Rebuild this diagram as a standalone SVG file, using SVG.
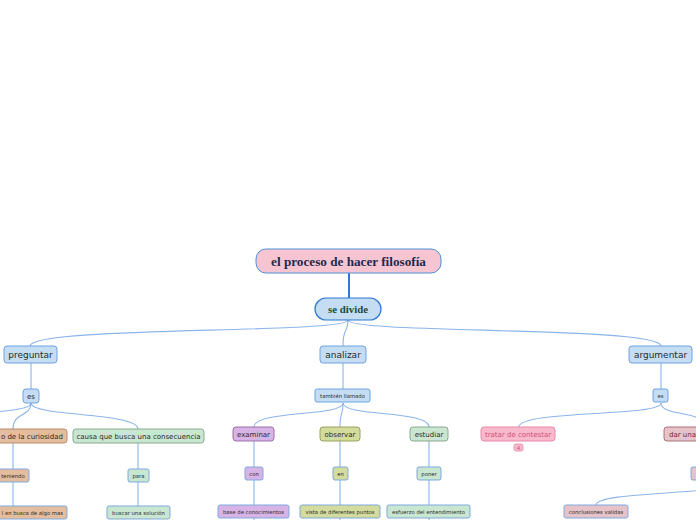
<svg xmlns="http://www.w3.org/2000/svg" width="696" height="520" viewBox="0 0 696 520">
<style>
.c{fill:none;stroke:#8ab4ea;stroke-width:1.1}
.t{font-family:"DejaVu Sans",Verdana,sans-serif;fill:#2b2b2b;text-anchor:middle}
.s{font-family:"Liberation Serif","DejaVu Serif",serif;font-weight:bold;text-anchor:middle}
.blue{fill:#c4ddf3;stroke:#6fa3e0;stroke-width:1}
.tan{fill:#e3bd9d;stroke:#b58e6e;stroke-width:1}
.tanb{fill:#e3bd9d;stroke:#7fa9e0;stroke-width:1}
.grn{fill:#c8e6d0;stroke:#8ca890;stroke-width:1}
.grnb{fill:#c8e6d0;stroke:#7fa9e0;stroke-width:1}
.pur{fill:#d8b3e6;stroke:#9b70a8;stroke-width:1}
.purb{fill:#d8b3e6;stroke:#7fa9e0;stroke-width:1}
.olv{fill:#d3dc9d;stroke:#9aa062;stroke-width:1}
.olvb{fill:#d3dc9d;stroke:#7fa9e0;stroke-width:1}
.pnk{fill:#f9b9cc;stroke:#e98aa8;stroke-width:1}
.ros{fill:#e6c3c8;stroke:#a8737b;stroke-width:1}
.rosb{fill:#e6c3c8;stroke:#7fa9e0;stroke-width:1}
.f9{font-size:9px}.f7{font-size:7px}.f5{font-size:5.3px}
</style>
<g id="connectors">
<path d="M349 273 L349 298" fill="none" stroke="#2a7ae2" stroke-width="2"/>
<path class="c" d="M348 320 C348 334 30 326 30 346"/>
<path class="c" d="M348 320 C348 334 343 326 343 346"/>
<path class="c" d="M348 320 C348 334 661 326 661 346"/>
<path class="c" d="M31 363 L31 389"/>
<path class="c" d="M343 363 L343 389"/>
<path class="c" d="M661 363 L661 389"/>
<path class="c" d="M31 403 C31 417 -90 409 -90 429"/>
<path class="c" d="M31 403 C31 417 13 412 13 429"/>
<path class="c" d="M31 403 C31 417 138 412 138 429"/>
<path class="c" d="M13 443 L13 469"/>
<path class="c" d="M13 482 L13 506"/>
<path class="c" d="M138 443 L138 469"/>
<path class="c" d="M138 482 L138 506"/>
<path class="c" d="M343 403 C343 417 254 410 254 427"/>
<path class="c" d="M343 403 C343 417 340 410 340 427"/>
<path class="c" d="M343 403 C343 417 429 410 429 427"/>
<path class="c" d="M254 441 L254 467"/>
<path class="c" d="M254 480 L254 505"/>
<path class="c" d="M254 518 L254 522"/>
<path class="c" d="M340 441 L340 467"/>
<path class="c" d="M340 480 L340 505"/>
<path class="c" d="M340 518 L340 522"/>
<path class="c" d="M429 441 L429 467"/>
<path class="c" d="M429 480 L429 505"/>
<path class="c" d="M429 518 L429 522"/>
<path class="c" d="M661 403 C661 417 519 410 519 427"/>
<path class="c" d="M661 403 C661 417 705 410 705 427"/>
<path class="c" d="M740 480 C740 496 596 490 596 505"/>
</g>
<g id="root"><rect x="256" y="249" width="185" height="24" rx="10" fill="#f7c5d2" stroke="#4f8fd6" stroke-width="1"/><text class="s" x="348.5" y="265.5" font-size="13.2" fill="#1c2a4f">el proceso de hacer filosofía</text></g>
<g id="sedivide"><rect x="315" y="298" width="66" height="22" rx="11" fill="#c4ddf3" stroke="#2a76d2" stroke-width="1.2"/><text class="s" x="348" y="312.8" font-size="10.8" fill="#1d4b3c">se divide</text></g>
<g id="preguntar"><rect class="blue" x="4" y="346" width="53" height="17" rx="3"/><text class="t f9" x="30.5" y="357.5">preguntar</text></g>
<g id="analizar"><rect class="blue" x="320" y="346" width="46" height="17" rx="3"/><text class="t f9" x="343" y="357.5">analizar</text></g>
<g id="argumentar"><rect class="blue" x="629" y="346" width="63" height="17" rx="3"/><text class="t f9" x="660.5" y="357.5">argumentar</text></g>
<g id="es1"><rect class="blue" x="23" y="389" width="16" height="14" rx="3"/><text class="t f7" x="31" y="398.5">es</text></g>
<g id="tambien"><rect class="blue" x="315" y="389" width="55" height="13" rx="2"/><text class="t f5" x="342.5" y="397.5">también llamado</text></g>
<g id="es2"><rect class="blue" x="653" y="389" width="15" height="13" rx="2"/><text class="t f5" x="660.5" y="397.5">es</text></g>
<g id="curiosidad"><rect class="tan" x="-40" y="429" width="107" height="14" rx="3"/><text class="t f7" x="63" y="438.5" style="text-anchor:end">o de la curiosidad</text></g>
<g id="causa"><rect class="grn" x="73" y="429" width="131" height="14" rx="3"/><text class="t f7" x="138.5" y="438.5">causa que busca una consecuencia</text></g>
<g id="teniendo"><rect class="tanb" x="-4" y="469" width="33" height="13" rx="2"/><text class="t f5" x="13" y="477.5">teniendo</text></g>
<g id="busca"><rect class="tanb" x="-20" y="506" width="87" height="13" rx="2"/><text class="t f5" x="63" y="514.5" style="text-anchor:end">l en busca de algo mas</text></g>
<g id="para"><rect class="grnb" x="128" y="469" width="21" height="13" rx="2"/><text class="t f5" x="138.5" y="477.5">para</text></g>
<g id="solucion"><rect class="grnb" x="107" y="506" width="63" height="13" rx="2"/><text class="t f5" x="138.5" y="514.5">buscar una solución</text></g>
<g id="examinar"><rect class="pur" x="233" y="427" width="41" height="14" rx="3"/><text class="t f7" x="253.5" y="436.5">examinar</text></g>
<g id="observar"><rect class="olv" x="320" y="427" width="40" height="14" rx="3"/><text class="t f7" x="340" y="436.5">observar</text></g>
<g id="estudiar"><rect class="grn" x="410" y="427" width="38" height="14" rx="3"/><text class="t f7" x="429" y="436.5">estudiar</text></g>
<g id="con"><rect class="purb" x="245" y="467" width="18" height="13" rx="2"/><text class="t f5" x="254" y="475.5">con</text></g>
<g id="en"><rect class="olvb" x="333" y="467" width="15" height="13" rx="2"/><text class="t f5" x="340.5" y="475.5">en</text></g>
<g id="poner"><rect class="grnb" x="417" y="467" width="24" height="13" rx="2"/><text class="t f5" x="429" y="475.5">poner</text></g>
<g id="base"><rect class="purb" x="218" y="505" width="71" height="13" rx="2"/><text class="t f5" x="253.5" y="513.5">base de conocimientos</text></g>
<g id="vista"><rect class="olvb" x="300" y="505" width="80" height="13" rx="2"/><text class="t f5" x="340" y="513.5">vista de diferentes puntos</text></g>
<g id="esfuerzo"><rect class="grnb" x="387" y="505" width="83" height="13" rx="2"/><text class="t f5" x="428.5" y="513.5">esfuerzo del entendimiento</text></g>
<g id="tratar"><rect class="pnk" x="481" y="427" width="74" height="14" rx="3"/><text class="t f7" x="518" y="436.5" style="fill:#d24f79">tratar de contestar</text><rect x="514" y="444" width="9" height="7" rx="2" fill="#f9b9cc" stroke="#e98aa8" stroke-width="0.8"/><text class="t" x="518.5" y="449.8" font-size="5.5" style="fill:#d24f79">4</text></g>
<g id="darUna"><rect class="ros" x="664" y="427" width="80" height="14" rx="3"/><text class="t f7" x="669" y="436.5" style="text-anchor:start;fill:#6b2a35">dar una</text></g>
<g id="hidden"><rect class="rosb" x="691" y="467" width="30" height="13" rx="2"/></g>
<g id="conclusiones"><rect class="rosb" x="564" y="505" width="64" height="13" rx="2"/><text class="t f5" x="596" y="513.5">conclusiones validas</text></g>
</svg>
